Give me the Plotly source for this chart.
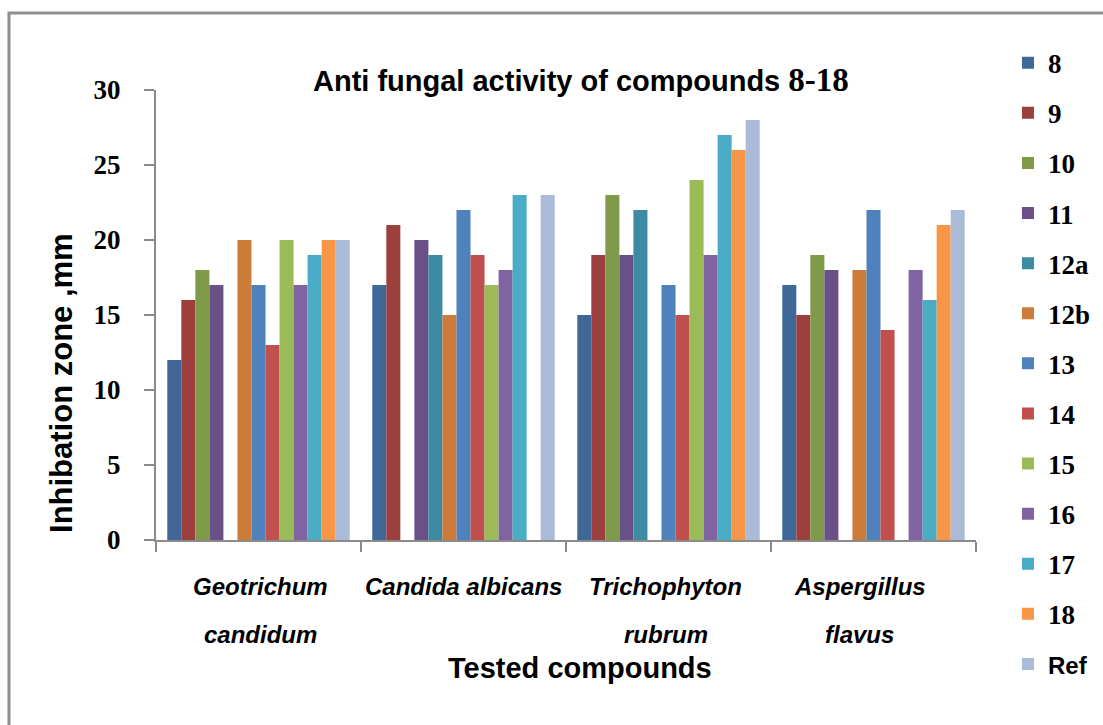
import plotly.graph_objects as go

# ---- data ----
categories = ["Geotrichum candidum", "Candida albicans", "Trichophyton rubrum", "Aspergillus flavus"]
label_lines = [["Geotrichum", "candidum"], ["Candida albicans"], ["Trichophyton", "rubrum"], ["Aspergillus", "flavus"]]

series_names = ["8", "9", "10", "11", "12a", "12b", "13", "14", "15", "16", "17", "18", "Ref"]

s8 = [12, 17, 15, 17]
s9 = [16, 21, 19, 15]
s10 = [18, None, 23, 19]
s11 = [17, 20, 19, 18]
s12a = [None, 19, 22, None]
s12b = [20, 15, None, 18]
s13 = [17, 22, 17, 22]
s14 = [13, 19, 15, 14]
s15 = [20, 17, 24, None]
s16 = [17, 18, 19, 18]
s17 = [19, 23, 27, 16]
s18 = [20, None, 26, 21]
sRef = [20, 23, 28, 22]

series_values = [s8, s9, s10, s11, s12a, s12b, s13, s14, s15, s16, s17, s18, sRef]

colors = ["#3F6899", "#9C3F3D", "#7F9A48", "#695087", "#3C8BA2", "#CC7B38",
          "#4F81BD", "#C0504D", "#9BBB59", "#8064A2", "#4BACC6", "#F79646", "#AABAD7"]

y_ticks = [0, 5, 10, 15, 20, 25, 30]

# ---- figure ----
fig = go.Figure()
for name, vals, col in zip(series_names, series_values, colors):
    disp = name
    if name == "Ref":
        disp = "<span style='font-family:\"Liberation Sans\";font-size:24px'>Ref</span>"
    fig.add_trace(go.Bar(
        x=categories, y=vals, name=disp, marker=dict(color=col, line=dict(width=0)),
        legendgroup=name,
    ))

axis_col = "#8B8B8B"
fig.update_layout(
    width=1103, height=725,
    margin=dict(l=156, r=127, t=90, b=185, autoexpand=False),
    paper_bgcolor="white", plot_bgcolor="white",
    barmode="group", bargap=0.11, bargroupgap=0,
    showlegend=True,
    legend=dict(
        x=1.039, xanchor="left", y=1.114, yanchor="top",
        traceorder="grouped", tracegroupgap=12, maxheight=720,
        font=dict(family="Liberation Serif", size=27, color="black", weight="bold"),
        bgcolor="rgba(0,0,0,0)", borderwidth=0,
    ),
    xaxis=dict(
        type="category", showline=True, linecolor=axis_col, linewidth=2,
        ticks="outside", tickson="boundaries", ticklen=10, tickwidth=2, tickcolor=axis_col,
        showticklabels=False, showgrid=False, zeroline=False,
    ),
    yaxis=dict(
        range=[0, 30], tickvals=y_ticks, showline=True, linecolor=axis_col, linewidth=2,
        ticks="outside", ticklen=10, tickwidth=2, tickcolor=axis_col,
        tickfont=dict(family="Liberation Serif", size=27, color="black", weight="bold"),
        ticklabelstandoff=18, showgrid=False, zeroline=False,
    ),
)

# category labels (two lines with wide spacing)
line_y = [-0.1044, -0.2089]
label_xshift = [2, 0, -3, -14]
for cat, lines, xs in zip(categories, label_lines, label_xshift):
    for i, txt in enumerate(lines):
        fig.add_annotation(
            x=cat, xref="x", y=line_y[i], yref="paper", text=txt, showarrow=False,
            xanchor="center", yanchor="middle", xshift=xs,
            font=dict(family="Liberation Sans", size=24, color="black", weight="bold", style="italic"),
        )

# chart title
fig.add_annotation(
    x=0.518, y=1.022, xref="paper", yref="paper", showarrow=False,
    xanchor="center", yanchor="middle",
    text="Anti fungal activity of compounds <span style='font-family:\"Liberation Serif\";font-size:33px'>8-18</span>",
    font=dict(family="Liberation Sans", size=29, color="black", weight="bold"),
)
# axis titles
fig.add_annotation(
    x=0.517, y=-0.284, xref="paper", yref="paper", showarrow=False,
    xanchor="center", yanchor="middle", text="Tested compounds",
    font=dict(family="Liberation Sans", size=29, color="black", weight="bold"),
)
fig.add_annotation(
    x=-0.1146, y=0.349, xref="paper", yref="paper", showarrow=False,
    xanchor="center", yanchor="middle", text="Inhibation zone ,mm", textangle=-90,
    font=dict(family="Liberation Sans", size=31, color="black", weight="bold"),
)

# outer chart border
fig.add_shape(type="rect", xref="paper", yref="paper",
              x0=-0.1793, x1=1.1634, y0=-0.444, y1=1.1711,
              line=dict(color="#8F8F8F", width=3), fillcolor="rgba(0,0,0,0)", layer="below")

fig.write_html("out.html", config={"displayModeBar": False},
               post_script="document.body.style.margin='0';")
